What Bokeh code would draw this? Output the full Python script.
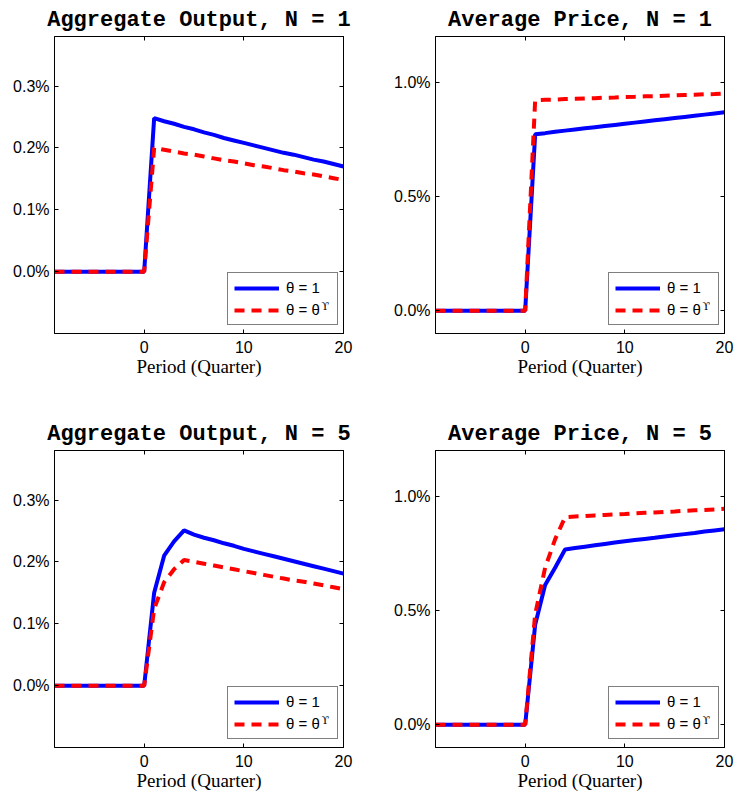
from bokeh.plotting import figure
from bokeh.layouts import column, row
from bokeh.models import (Range1d, LinearAxis, FixedTicker, Legend, LegendItem,
                          Label, Title)
from bokeh.embed import file_html
from bokeh.resources import INLINE

# ---------------- data ----------------
periods = [-9, -8, -7, -6, -5, -4, -3, -2, -1, 0,
           1, 2, 3, 4, 5, 6, 7, 8, 9, 10,
           11, 12, 13, 14, 15, 16, 17, 18, 19, 20]

output_n1_theta1 = [0.0, 0.0, 0.0, 0.0, 0.0, 0.0, 0.0, 0.0, 0.0, 0.0,
                    0.248, 0.243, 0.239, 0.234, 0.230, 0.225, 0.221, 0.216, 0.212, 0.208,
                    0.204, 0.200, 0.196, 0.192, 0.189, 0.185, 0.181, 0.178, 0.174, 0.170]
output_n1_thetaU = [0.0, 0.0, 0.0, 0.0, 0.0, 0.0, 0.0, 0.0, 0.0, 0.0,
                    0.200, 0.197, 0.194, 0.191, 0.189, 0.186, 0.183, 0.180, 0.178, 0.175,
                    0.172, 0.170, 0.167, 0.164, 0.162, 0.159, 0.157, 0.154, 0.151, 0.148]
price_n1_theta1 = [0.0, 0.0, 0.0, 0.0, 0.0, 0.0, 0.0, 0.0, 0.0, 0.0,
                   0.772, 0.777, 0.783, 0.788, 0.793, 0.798, 0.803, 0.808, 0.813, 0.818,
                   0.823, 0.828, 0.833, 0.838, 0.843, 0.848, 0.853, 0.858, 0.863, 0.868]
price_n1_thetaU = [0.0, 0.0, 0.0, 0.0, 0.0, 0.0, 0.0, 0.0, 0.0, 0.0,
                   0.921, 0.923, 0.924, 0.926, 0.927, 0.929, 0.930, 0.932, 0.933, 0.935,
                   0.936, 0.938, 0.939, 0.941, 0.942, 0.944, 0.945, 0.947, 0.948, 0.950]
output_n5_theta1 = [0.0, 0.0, 0.0, 0.0, 0.0, 0.0, 0.0, 0.0, 0.0, 0.0,
                    0.150, 0.210, 0.233, 0.251, 0.244, 0.239, 0.235, 0.230, 0.226, 0.221,
                    0.217, 0.213, 0.209, 0.205, 0.201, 0.197, 0.193, 0.189, 0.185, 0.181]
output_n5_thetaU = [0.0, 0.0, 0.0, 0.0, 0.0, 0.0, 0.0, 0.0, 0.0, 0.0,
                    0.124, 0.167, 0.188, 0.203, 0.200, 0.197, 0.194, 0.191, 0.188, 0.185,
                    0.182, 0.179, 0.176, 0.173, 0.170, 0.168, 0.165, 0.162, 0.159, 0.156]
price_n5_theta1 = [0.0, 0.0, 0.0, 0.0, 0.0, 0.0, 0.0, 0.0, 0.0, 0.0,
                   0.437, 0.611, 0.687, 0.767, 0.773, 0.779, 0.785, 0.791, 0.797, 0.803,
                   0.808, 0.813, 0.818, 0.824, 0.829, 0.834, 0.839, 0.845, 0.850, 0.855]
price_n5_thetaU = [0.0, 0.0, 0.0, 0.0, 0.0, 0.0, 0.0, 0.0, 0.0, 0.0,
                   0.483, 0.687, 0.811, 0.908, 0.911, 0.913, 0.916, 0.918, 0.920, 0.922,
                   0.925, 0.927, 0.929, 0.931, 0.933, 0.936, 0.938, 0.940, 0.942, 0.945]

x_ticks = [0, 10, 20]
x_tick_labels = ["0", "10", "20"]
output_ticks = [0.0, 0.1, 0.2, 0.3]
output_tick_labels = ["0.0%", "0.1%", "0.2%", "0.3%"]
price_ticks = [0.0, 0.5, 1.0]
price_tick_labels = ["0.0%", "0.5%", "1.0%"]

titles = ["Aggregate Output, N = 1", "Average Price, N = 1",
          "Aggregate Output, N = 5", "Average Price, N = 5"]
legend_labels = ["θ = 1", "θ = θ"]
legend_superscript = "ϒ"
x_label = "Period (Quarter)"

x_limits = (-9, 20)
output_limits = (-0.1, 0.38)
price_limits = (-0.1, 1.2)

BLUE = "#0000ff"
RED = "#ff0000"


def hidden_axis(ticks):
    return LinearAxis(ticker=FixedTicker(ticks=ticks),
                      major_label_text_color=None, major_label_text_font_size="1px",
                      major_label_standoff=0, major_tick_in=4, major_tick_out=0,
                      minor_tick_line_color=None, axis_line_color="black")


def make_panel(title, blue, red, ylim, yticks, ylabels, left, right, top, bottom):
    p = figure(frame_width=289, frame_height=297,
               x_range=Range1d(*x_limits), y_range=Range1d(*ylim),
               output_backend="svg", toolbar_location=None,
               min_border_left=left, min_border_right=right,
               min_border_top=top, min_border_bottom=bottom,
               background_fill_color="white", border_fill_color="white",
               outline_line_color="black", outline_line_width=1)
    p.title = Title(text=title, align="center", text_font="Liberation Mono",
                    text_font_style="bold", text_font_size="22px",
                    text_color="black", standoff=7)
    p.xgrid.visible = False
    p.ygrid.visible = False

    # bottom axis
    xa = p.xaxis[0]
    xa.ticker = FixedTicker(ticks=x_ticks)
    xa.major_label_overrides = {t: l for t, l in zip(x_ticks, x_tick_labels)}
    xa.major_tick_in = 4
    xa.major_tick_out = 0
    xa.minor_tick_line_color = None
    xa.major_label_standoff = 7
    xa.major_label_text_font = "Liberation Sans"
    xa.major_label_text_font_size = "16px"
    xa.major_label_text_color = "black"
    xa.axis_label = x_label
    xa.axis_label_text_font = "Liberation Serif"
    xa.axis_label_text_font_size = "19px"
    xa.axis_label_text_font_style = "normal"
    xa.axis_label_standoff = 0
    xa.axis_label_text_color = "black"

    # left axis
    ya = p.yaxis[0]
    ya.ticker = FixedTicker(ticks=yticks)
    ya.major_label_overrides = {t: l for t, l in zip(yticks, ylabels)}
    ya.major_tick_in = 4
    ya.major_tick_out = 0
    ya.minor_tick_line_color = None
    ya.major_label_standoff = 5
    ya.major_label_text_font = "Liberation Sans"
    ya.major_label_text_font_size = "16px"
    ya.major_label_text_color = "black"

    # box-style ticks on top and right
    p.add_layout(hidden_axis(x_ticks), "above")
    p.add_layout(hidden_axis(yticks), "right")

    r1 = p.line(periods, blue, line_color=BLUE, line_width=4)
    r2 = p.line(periods, red, line_color=RED, line_width=4, line_dash="10 7")

    legend = Legend(items=[LegendItem(label=legend_labels[0], renderers=[r1]),
                           LegendItem(label=legend_labels[1], renderers=[r2])],
                    location=(173, 8), orientation="vertical",
                    border_line_color="black", border_line_width=1,
                    background_fill_color=None, background_fill_alpha=0.0,
                    padding=6, spacing=5, margin=0,
                    glyph_width=45, glyph_height=14, label_height=14,
                    label_width=45, label_standoff=7,
                    label_text_font="Liberation Sans", label_text_font_size="15px",
                    label_text_color="black")
    p.add_layout(legend)

    sup = Label(x=x_limits[1], y=ylim[0], x_offset=-22, y_offset=27,
                text=legend_superscript, text_font="DejaVu Serif",
                text_font_size="11px", text_color="black",
                text_baseline="alphabetic", text_align="left")
    p.add_layout(sup)
    return p


p1 = make_panel(titles[0], output_n1_theta1, output_n1_thetaU, output_limits,
                output_ticks, output_tick_labels, 54, 24, 36, 65)
p2 = make_panel(titles[1], price_n1_theta1, price_n1_thetaU, price_limits,
                price_ticks, price_tick_labels, 68, 10, 36, 65)
p3 = make_panel(titles[2], output_n5_theta1, output_n5_thetaU, output_limits,
                output_ticks, output_tick_labels, 54, 24, 52, 43)
p4 = make_panel(titles[3], price_n5_theta1, price_n5_thetaU, price_limits,
                price_ticks, price_tick_labels, 68, 10, 52, 43)

layout = column(row(p1, p2), row(p3, p4))

open("out.html", "w").write(file_html(layout, INLINE))
